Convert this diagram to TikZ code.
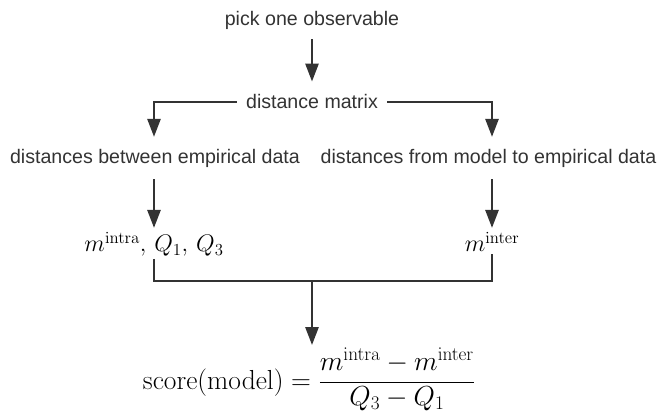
\RequirePackage{fix-cm}
\documentclass[tikz,border=0pt]{standalone}
\usepackage[no-math]{fontspec}
\newfontfamily\arialf{Liberation Sans}
\usetikzlibrary{arrows.meta}
\definecolor{ink}{HTML}{333333}
\begin{document}
\begin{tikzpicture}[x=1pt,y=-1pt,
 lbl/.style={inner sep=0pt, anchor=base, font=\arialf\fontsize{19.6}{23}\selectfont, text=ink},
 mth/.style={inner sep=0pt, anchor=base, font=\fontsize{24}{28}\selectfont, text=black},
 bigmth/.style={mth, font=\fontsize{27.5}{32}\selectfont},
 conn/.style={draw=ink, line width=2.6pt},
 arr/.style={conn, -{Triangle[length=18pt,width=13pt]}}]
\useasboundingbox (0,0) rectangle (658,411);
\node[lbl] (P) at (312,26) {pick one observable};
\node[lbl] (D) at (312,109) {distance matrix};
\node[lbl] (L1) at (155,164) {distances between empirical data};
\node[lbl] (R1) at (488.5,164) {distances from model to empirical data};
\node[mth] (L2) at (154,252) {$m^{\mathrm{intra}},\,Q_1,\,Q_3$};
\node[mth] (R2) at (492,252) {$m^{\mathrm{inter}}$};
\node[bigmth] (F) at (309,389.5) {$\displaystyle \mathrm{score}(\mathrm{model})=\frac{m^{\mathrm{intra}}-m^{\mathrm{inter}}}{\raisebox{3pt}{$Q_3-Q_1$}}$};
\coordinate (J) at (312,281);
\draw[arr, shorten <=9pt, shorten >=13pt] (P) -- (D);
\draw[arr, shorten <=9pt, shorten >=12.7pt] (D.west) -| (L2 |- L1.north);
\draw[arr, shorten <=9pt, shorten >=12.7pt] (D.east) -| (R2 |- R1.north);
\draw[arr, shorten <=11pt, shorten >=4pt] (L2 |- L1.south) -- (L2.north);
\draw[arr, shorten <=11pt, shorten >=4pt] (R2 |- R1.south) -- (R2.north);
\draw[conn, shorten <=2pt, shorten >=2pt] (L2.south) |- (J) -| (R2.south);
\draw[arr, shorten >=3pt] (J) -- (J |- F.north);
\end{tikzpicture}
\end{document}
